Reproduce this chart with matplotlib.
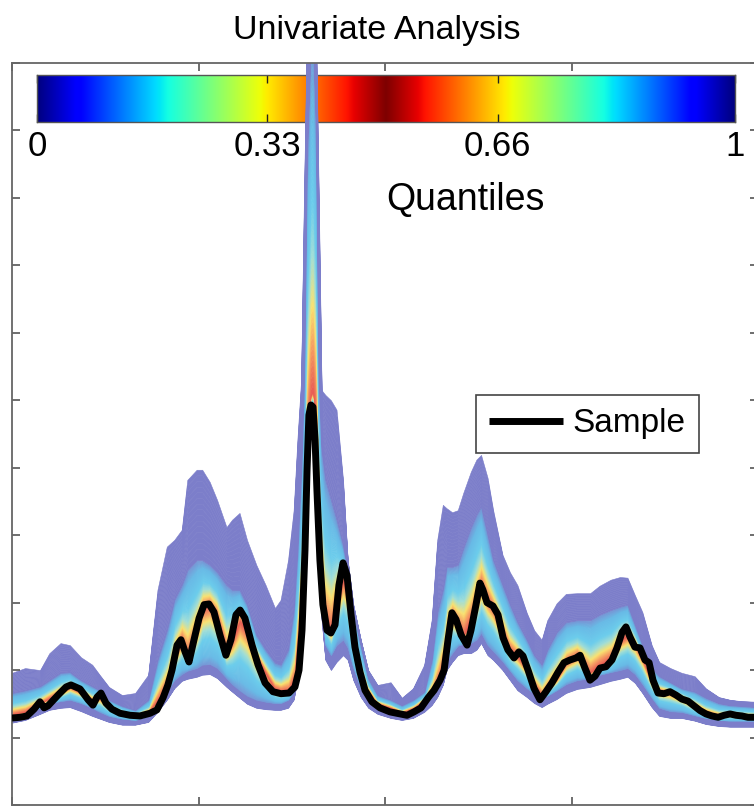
import numpy as np
import matplotlib
matplotlib.use("Agg")
import matplotlib.pyplot as plt
from matplotlib.colors import ListedColormap, LinearSegmentedColormap

plt.rcParams['font.family'] = ['Liberation Sans', 'DejaVu Sans']

# ---- ensemble quantile envelopes (channel vs. intensity) ----
grid_x = [0, 7, 15, 20, 26, 31, 37, 43, 47, 52, 59, 66, 73, 78, 83, 87, 91, 94, 99, 102,
          106, 110, 115, 118, 122, 126, 131, 136, 141, 144, 148, 151, 153, 155, 156.5, 158,
          160, 161.5, 163, 164.5, 166, 168, 171, 174, 177.5, 180, 183, 187, 191, 196, 203,
          209, 215, 221, 225, 228, 231, 233, 236, 239, 242, 246, 249, 251.5, 255, 258, 263,
          267, 271, 276, 280, 284, 287, 292, 297, 303, 310, 315, 321, 326, 330, 334, 338,
          343, 347, 353, 359, 366, 372, 379, 385, 391, 400]

q000 = [12.2, 12.6, 13.5, 14.1, 14.4, 14.5, 13.9, 13.2, 12.8, 12.3, 11.9, 11.9, 12.3, 13.8,
        15.6, 17.3, 18.4, 18.7, 19.0, 19.3, 19.4, 18.8, 17.5, 16.8, 15.9, 15.0, 14.4, 14.2,
        14.1, 14.1, 14.4, 15.6, 18.5, 24.5, 33.0, 45.0, 55.6, 56.3, 49.7, 36.3, 27.4, 21.5,
        20.0, 21.2, 22.2, 21.5, 18.5, 16.0, 14.4, 13.5, 12.9, 12.6, 12.9, 13.8, 14.8, 16.0,
        17.8, 20.0, 21.2, 22.2, 22.5, 22.5, 23.0, 24.0, 22.2, 21.5, 20.0, 18.5, 17.0, 16.0,
        15.1, 14.5, 15.0, 15.7, 16.6, 17.2, 17.5, 17.9, 18.4, 18.7, 19.0, 18.1, 16.6, 14.5,
        13.2, 12.9, 12.9, 12.5, 12.0, 11.7, 11.6, 11.6, 11.6]

q010 = [13.0, 13.5, 14.4, 15.1, 15.4, 15.6, 15.1, 14.4, 13.8, 13.2, 12.8, 12.6, 13.2, 14.8,
        16.8, 18.5, 19.4, 19.9, 20.3, 20.8, 20.9, 20.3, 18.8, 17.9, 17.0, 16.2, 15.6, 15.3,
        15.1, 15.1, 15.6, 16.8, 20.0, 27.4, 37.0, 50.0, 58.6, 59.3, 54.1, 42.3, 30.4, 23.7,
        22.2, 23.7, 24.5, 23.3, 20.3, 17.3, 15.6, 14.5, 13.8, 13.5, 13.8, 14.8, 16.0, 17.3,
        19.1, 21.3, 22.5, 23.6, 23.9, 24.0, 24.5, 25.5, 23.7, 22.8, 21.3, 19.9, 18.5, 17.3,
        16.5, 15.9, 16.2, 17.0, 17.9, 18.5, 18.8, 19.3, 19.7, 20.0, 20.3, 19.4, 17.9, 15.9,
        14.4, 13.9, 13.8, 13.3, 12.9, 12.6, 12.5, 12.5, 12.5]

q050 = [13.5, 13.9, 15.1, 15.9, 16.8, 17.6, 16.8, 15.6, 16.0, 14.7, 13.8, 13.3, 13.8, 15.6,
        17.8, 22.2, 24.5, 22.2, 25.9, 29.2, 29.7, 28.2, 23.0, 24.5, 27.4, 25.9, 22.2, 19.7,
        17.3, 17.0, 17.0, 18.5, 24.5, 31.9, 42.0, 54.0, 60.8, 61.5, 57.1, 48.2, 34.8, 27.4,
        25.9, 30.4, 33.4, 31.9, 24.5, 19.7, 17.0, 15.1, 14.5, 13.8, 14.4, 15.6, 16.8, 18.2,
        20.8, 25.9, 28.2, 26.7, 25.2, 27.4, 30.4, 32.6, 30.4, 29.2, 25.9, 23.0, 22.2, 20.3,
        17.8, 16.3, 17.3, 18.8, 21.2, 22.2, 19.7, 20.8, 21.8, 24.5, 25.2, 24.0, 21.9, 18.5,
        17.0, 16.8, 16.0, 14.8, 13.8, 13.3, 13.5, 13.3, 13.2]

q090 = [16.6, 17.0, 17.6, 18.5, 19.6, 19.7, 18.5, 17.6, 17.0, 15.6, 14.7, 14.1, 15.6, 21.5,
        25.9, 30.4, 32.6, 34.8, 36.3, 36.3, 35.6, 34.5, 32.6, 31.9, 31.9, 29.7, 25.2, 23.0,
        21.1, 20.8, 23.0, 28.9, 37.8, 49.7, 63.0, 95.0, 112.0, 113.0, 100.0, 63.0, 52.6, 48.2,
        45.2, 42.3, 38.5, 34.8, 28.6, 23.7, 18.8, 16.3, 15.6, 14.8, 15.6, 16.8, 21.5, 28.5,
        31.9, 35.3, 35.3, 35.6, 38.1, 41.1, 43.0, 44.2, 40.0, 36.3, 32.6, 29.7, 27.1, 24.5,
        22.2, 20.8, 23.0, 25.6, 27.1, 27.4, 27.4, 28.2, 28.9, 29.4, 29.7, 26.7, 23.7, 20.3,
        19.1, 18.2, 17.3, 16.8, 15.9, 15.1, 14.8, 14.7, 14.5]

q100 = [19.6, 20.3, 20.0, 22.5, 24.0, 23.7, 21.9, 20.8, 19.3, 17.5, 16.3, 16.6, 19.3, 31.9,
        38.3, 39.3, 40.8, 48.2, 49.7, 49.7, 47.9, 45.2, 41.2, 42.3, 43.3, 39.3, 35.6, 32.6,
        29.2, 30.4, 36.3, 43.7, 54.1, 63.0, 89.7, 113.4, 116.4, 116.4, 114.9, 89.7, 61.5, 60.8,
        60.0, 58.6, 48.2, 36.3, 29.7, 24.5, 20.0, 17.8, 18.2, 15.9, 17.3, 20.8, 27.4, 39.3,
        44.5, 44.0, 43.4, 43.7, 46.3, 49.4, 51.2, 51.9, 48.5, 43.7, 37.1, 34.5, 32.6, 28.5,
        25.9, 24.5, 27.4, 29.9, 31.3, 31.4, 31.4, 32.5, 33.4, 33.8, 33.7, 31.1, 28.6, 23.7,
        21.2, 20.3, 19.6, 19.1, 17.3, 16.0, 15.6, 15.4, 15.3]

quantile_levels = [0.0, 0.1, 0.5, 0.9, 1.0]

# ---- observed sample ----
sample_x = [0, 4.3, 8, 11.8, 15, 17.2, 19.3, 24.7, 29, 31.6,
            36.5, 40.8, 43.4, 45.6, 47.7, 50.4, 53.6, 57.9, 63.3, 68.6,
            74, 77.7, 81, 83.6, 85.8, 88.5, 90.6, 92.8, 94.9, 97.6,
            100.3, 103, 105.6, 108.3, 111.5, 114.7, 117.4, 120.1, 122.3, 124.9,
            128.7, 131.9, 135.7, 139.9, 144.2, 148.5, 151.7, 153.9, 155.5, 157.1,
            158.2, 159.2, 160.3, 161.4, 162.5, 163.5, 165.1, 166.7, 168.9, 171,
            173.2, 175.3, 177.5, 179.6, 181.8, 183.9, 186.6, 189.3, 193, 197.3,
            202.7, 208, 211.8, 215.5, 219.3, 223.1, 226.3, 229.5, 231.7, 233.8,
            235.9, 238.1, 240.8, 244, 246.1, 248.8, 250.9, 252.5, 254.7, 257.9,
            260.6, 263.3, 265.9, 269.2, 271.8, 274, 276.7, 279.9, 283.1, 286.3,
            289.5, 292.8, 296, 299.2, 302.4, 304.6, 307.2, 309.9, 312.6, 315.3,
            318.5, 321.7, 324.4, 327.1, 329.2, 331.4, 334, 336.7, 339.4, 341.6,
            343.7, 346.4, 349.6, 352.8, 356, 359.2, 362.5, 365.7, 368.9, 372.1,
            375.3, 378.6, 381.8, 385, 388.2, 391.4, 394.6, 398.9, 400]
sample_y = [12.9, 13.0, 13.2, 14.2, 15.3, 14.4, 14.7, 16.3, 17.5, 17.8,
            17.2, 15.6, 14.8, 16.0, 16.6, 15.1, 14.2, 13.6, 13.3, 13.2,
            13.6, 14.1, 15.9, 17.8, 20.0, 23.7, 24.5, 22.7, 21.2, 24.5,
            27.7, 29.7, 29.8, 28.6, 25.2, 22.2, 24.5, 28.2, 28.9, 27.7,
            23.7, 20.8, 18.1, 16.8, 16.5, 16.6, 17.5, 20.0, 25.9, 37.8,
            49.7, 57.8, 59.3, 59.0, 54.1, 46.7, 36.3, 29.7, 25.9, 25.5,
            26.7, 32.6, 35.9, 34.1, 28.2, 23.4, 19.7, 17.0, 15.3, 14.4,
            13.8, 13.5, 13.3, 13.8, 14.4, 15.9, 17.0, 18.5, 20.0, 24.5,
            28.5, 27.5, 25.2, 23.7, 25.9, 29.7, 32.9, 31.9, 30.0, 29.5,
            28.2, 24.8, 23.0, 21.8, 22.7, 22.1, 20.0, 17.3, 15.6, 16.8,
            18.1, 19.7, 21.1, 21.5, 21.8, 22.2, 20.3, 18.5, 19.1, 20.3,
            20.5, 21.5, 23.3, 25.6, 26.4, 24.9, 23.4, 23.3, 21.5, 21.1,
            18.5, 16.6, 16.5, 16.8, 16.3, 15.7, 15.4, 14.7, 14.0, 13.5,
            13.2, 13.0, 13.3, 13.5, 13.3, 13.2, 13.0, 13.0, 13.0]

cbar_ticks = [0, 0.33, 0.66, 1]
cbar_ticklabels = ['0', '0.33', '0.66', '1']

# mirrored jet for the scale bar: dark blue at the tails, dark red at the median
jet = plt.get_cmap('jet')
def mirror(q):
    return 1.0 - np.abs(2.0 * np.asarray(q) - 1.0)

quantile_cmap = ListedColormap(jet(mirror(np.linspace(0, 1, 512))))

# washed-out version used inside the fan (0 = median, 1 = 10%/90% quantile)
fan_cmap = LinearSegmentedColormap.from_list('fan', [
    (0.00, (232 / 255, 92 / 255, 84 / 255)),
    (0.12, (245 / 255, 150 / 255, 96 / 255)),
    (0.25, (250 / 255, 226 / 255, 112 / 255)),
    (0.40, (160 / 255, 222 / 255, 215 / 255)),
    (0.55, (108 / 255, 205 / 255, 236 / 255)),
    (0.85, (104 / 255, 186 / 255, 230 / 255)),
    (1.00, (118 / 255, 150 / 255, 214 / 255)),
])
TAIL_COLOR = (124 / 255, 126 / 255, 202 / 255)

def fan_color(q):
    d = abs(q - 0.5)
    if d >= 0.4:
        return TAIL_COLOR
    return fan_cmap(d / 0.4)[:3]

fig = plt.figure(figsize=(7.54, 8.06), dpi=100)
ax = fig.add_axes([12 / 754, 1 / 806, 746 / 754, 742 / 806])

gx = np.array(grid_x, dtype=float)
Q = np.array([q000, q010, q050, q090, q100], dtype=float)

def quantile_curve(level):
    return np.array([np.interp(level, quantile_levels, Q[:, i]) for i in range(Q.shape[1])])

levels = np.linspace(0.0, 1.0, 161)
curves = [quantile_curve(l) for l in levels]
for k in range(len(levels) - 1):
    col = fan_color(0.5 * (levels[k] + levels[k + 1]))
    ax.fill_between(gx, curves[k], curves[k + 1], facecolor=col, edgecolor=col,
                    linewidth=0.4, zorder=1)

ax.plot(sample_x, sample_y, color='black', lw=5.0, solid_joinstyle='round',
        solid_capstyle='butt', zorder=3, label='Sample')

ax.set_xlim(0, 400)
ax.set_ylim(0, 110)
ax.set_xticks([0, 100, 200, 300, 400])
ax.set_yticks(np.arange(0, 111, 10))
ax.tick_params(direction='in', length=6, width=1.2, colors='#555555',
               top=True, right=True, labelbottom=False, labelleft=False)
for s in ax.spines.values():
    s.set_color('#666666')
    s.set_linewidth(1.3)

# quantile colour scale, drawn under the fan
cax = ax.inset_axes([25 / 746, 683 / 742, 698 / 746, 47 / 742], zorder=0.5)
cax.imshow(np.linspace(0, 1, 512)[None, :], aspect='auto', cmap=quantile_cmap,
           extent=[0, 1, 0, 1], interpolation='bilinear')
cax.set_xlim(0, 1)
cax.set_ylim(0, 1)
cax.set_yticks([])
cax.set_xticks(cbar_ticks)
cax.set_xticklabels(cbar_ticklabels)
cax.tick_params(axis='x', direction='in', top=True, bottom=True, length=6, width=1,
                colors='#222222', labelsize=25, pad=6, labelcolor='black')
for s in cax.spines.values():
    s.set_color('#555555')
    s.set_linewidth(1.0)

fig.text(465 / 754, 1 - 200 / 806, 'Quantiles', ha='center', va='center', fontsize=27)
fig.text(0.5, 1 - 30 / 806, 'Univariate Analysis', ha='center', va='center', fontsize=24.5)

leg = ax.legend(loc='upper left', bbox_to_anchor=(464 / 746, 410 / 742), borderaxespad=0,
                fancybox=False, edgecolor='#444444', framealpha=1, fontsize=24,
                handlelength=2.2, handletextpad=0.3, borderpad=0.4)
leg.get_frame().set_linewidth(1.2)

fig.savefig('out.png', dpi=100)
